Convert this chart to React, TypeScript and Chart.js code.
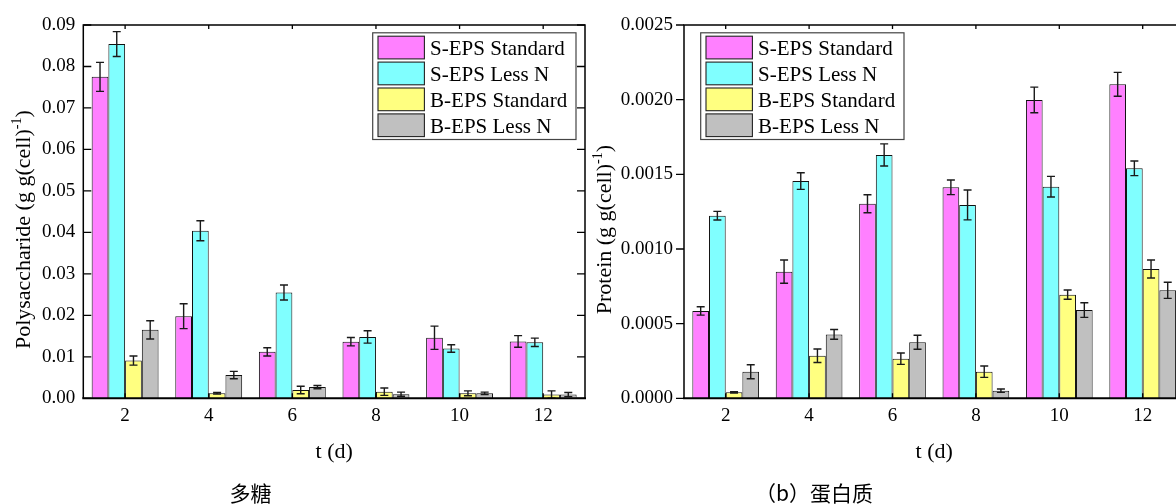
import React, { useEffect, useRef } from 'react';
import { Chart, registerables } from 'chart.js';

Chart.register(...registerables);

// ---------- data ----------
const categories = ['2', '4', '6', '8', '10', '12'];
const seriesNames = ['S-EPS Standard', 'S-EPS Less N', 'B-EPS Standard', 'B-EPS Less N'];
const seriesColors = ['#FF80FF', '#80FFFF', '#FFFF80', '#C0C0C0'];

// Polysaccharide (g g(cell)^-1)
const polySStd = [0.0775, 0.0198, 0.0112, 0.01365, 0.0146, 0.0137];
const polySLessN = [0.0854, 0.0404, 0.0255, 0.0148, 0.012, 0.0135];
const polyBStd = [0.0091, 0.0012, 0.002, 0.0016, 0.0012, 0.0009];
const polyBLessN = [0.0165, 0.0056, 0.0027, 0.001, 0.0012, 0.0009];
const polySStdErr = [0.0035, 0.003, 0.001, 0.001, 0.0028, 0.0014];
const polySLessNErr = [0.003, 0.0024, 0.0018, 0.0015, 0.0009, 0.001];
const polyBStdErr = [0.0011, 0.0002, 0.0009, 0.0009, 0.0006, 0.0009];
const polyBLessNErr = [0.0022, 0.0009, 0.0004, 0.0005, 0.0003, 0.0005];
const polyTickLabels = ['0.00', '0.01', '0.02', '0.03', '0.04', '0.05', '0.06', '0.07', '0.08', '0.09'];

// Protein (g g(cell)^-1)
const protSStd = [0.000585, 0.000848, 0.001303, 0.001413, 0.001998, 0.002103];
const protSLessN = [0.001223, 0.001455, 0.00163, 0.001295, 0.001417, 0.00154];
const protBStd = [0.00004, 0.000285, 0.000265, 0.000178, 0.000694, 0.000866];
const protBLessN = [0.000178, 0.000428, 0.000375, 0.000051, 0.000591, 0.000723];
const protSStdErr = [0.000028, 0.000078, 0.00006, 0.000049, 0.000086, 0.00008];
const protSLessNErr = [0.000029, 0.000056, 0.000074, 0.0001, 0.000069, 0.000049];
const protBStdErr = [0.000005, 0.000045, 0.000038, 0.000038, 0.000031, 0.00006];
const protBLessNErr = [0.000047, 0.000033, 0.000047, 0.000011, 0.000049, 0.000054];
const protTickLabels = ['0.0000', '0.0005', '0.0010', '0.0015', '0.0020', '0.0025'];

const polyTitle = ['Polysaccharide (g g(cell)', '-1', ')'];
const protTitle = ['Protein (g g(cell)', '-1', ')'];
const xTitle = 't (d)';
const polyCaption = '多糖';
const protCaption = '（b）蛋白质';

// ---------- styling ----------
const SERIF = '"Liberation Serif", "Times New Roman", serif';
const CJK = '"Noto Sans CJK SC", sans-serif';

function drawYTitle(ctx: CanvasRenderingContext2D, cx: number, cy: number, parts: string[]) {
  ctx.save();
  ctx.translate(cx, cy);
  ctx.rotate(-Math.PI / 2);
  const mainFont = `22px ${SERIF}`;
  const supFont = `14px ${SERIF}`;
  ctx.font = mainFont;
  const w0 = ctx.measureText(parts[0]).width;
  const w2 = ctx.measureText(parts[2]).width;
  ctx.font = supFont;
  const w1 = ctx.measureText(parts[1]).width;
  const total = w0 + w1 + w2;
  let x = -total / 2;
  ctx.fillStyle = '#000';
  ctx.textBaseline = 'alphabetic';
  ctx.textAlign = 'left';
  const base = 7;
  ctx.font = mainFont;
  ctx.fillText(parts[0], x, base);
  x += w0;
  ctx.font = supFont;
  ctx.fillText(parts[1], x, base - 9);
  x += w1;
  ctx.font = mainFont;
  ctx.fillText(parts[2], x, base);
  ctx.restore();
}

const decorPlugin = {
  id: 'decor',
  afterDatasetsDraw(chart: any, _args: any, opts: any) {
    const ctx: CanvasRenderingContext2D = chart.ctx;
    const { left, right, top, bottom } = chart.chartArea;
    const xs = chart.scales.x;
    const ys = chart.scales.y;
    ctx.save();

    // error bars
    ctx.strokeStyle = '#1a1a1a';
    ctx.lineWidth = 1.4;
    chart.data.datasets.forEach((ds: any, i: number) => {
      const meta = chart.getDatasetMeta(i);
      const errs: number[] = opts.errors[i];
      meta.data.forEach((bar: any, j: number) => {
        const v = ds.data[j];
        const e = errs[j];
        const yt = ys.getPixelForValue(v + e);
        const yb = ys.getPixelForValue(Math.max(0, v - e));
        const cx = bar.x;
        ctx.beginPath();
        ctx.moveTo(cx, yt);
        ctx.lineTo(cx, yb);
        ctx.moveTo(cx - 4, yt);
        ctx.lineTo(cx + 4, yt);
        ctx.moveTo(cx - 4, yb);
        ctx.lineTo(cx + 4, yb);
        ctx.stroke();
      });
    });

    // frame
    ctx.strokeStyle = '#000';
    ctx.lineWidth = 1.5;
    ctx.beginPath();
    ctx.moveTo(left, bottom);
    ctx.lineTo(left, top);
    ctx.lineTo(right, top);
    ctx.lineTo(right, bottom);
    ctx.stroke();
    ctx.lineWidth = 2;
    ctx.beginPath();
    ctx.moveTo(left - 1, bottom);
    ctx.lineTo(right + 1, bottom);
    ctx.stroke();

    // y ticks
    ctx.lineWidth = 1.3;
    ys.ticks.forEach((t: any) => {
      const py = ys.getPixelForValue(t.value);
      ctx.beginPath();
      if (opts.yTickIn) {
        ctx.moveTo(left, py);
        ctx.lineTo(left + 8, py);
      } else {
        ctx.moveTo(left - 8, py);
        ctx.lineTo(left, py);
      }
      ctx.moveTo(right, py);
      ctx.lineTo(right - 8, py);
      ctx.stroke();
    });
    // x ticks (top & bottom, inward)
    categories.forEach((_c, i) => {
      const px = xs.getPixelForValue(i);
      ctx.beginPath();
      ctx.moveTo(px, top);
      ctx.lineTo(px, top + 4);
      ctx.moveTo(px, bottom);
      ctx.lineTo(px, bottom - 5);
      ctx.stroke();
    });

    // legend
    const bw = 203.3;
    const bh = 106.7;
    const bx = opts.legendRight ? right - 9 - bw : left + 16.7;
    const by = top + 7.8;
    ctx.fillStyle = '#fff';
    ctx.fillRect(bx, by, bw, bh);
    ctx.strokeStyle = '#444';
    ctx.lineWidth = 1.2;
    ctx.strokeRect(bx, by, bw, bh);
    ctx.font = `21px ${SERIF}`;
    ctx.textAlign = 'left';
    ctx.textBaseline = 'alphabetic';
    chart.data.datasets.forEach((ds: any, i: number) => {
      const ry = by + 3.4 + i * 25.9;
      ctx.fillStyle = ds.backgroundColor;
      ctx.fillRect(bx + 5.3, ry, 46.4, 22.7);
      ctx.strokeStyle = '#222';
      ctx.lineWidth = 1.1;
      ctx.strokeRect(bx + 5.3, ry, 46.4, 22.7);
      ctx.fillStyle = '#000';
      ctx.fillText(ds.label, bx + 57.4, ry + 19);
    });

    // axis titles
    ctx.fillStyle = '#000';
    ctx.font = `22px ${SERIF}`;
    ctx.textAlign = 'center';
    ctx.textBaseline = 'middle';
    ctx.fillText(xTitle, (left + right) / 2, 452);
    drawYTitle(ctx, opts.yTitleX, (top + bottom) / 2 + opts.yTitleShift, opts.yTitle);

    // caption
    ctx.font = `21px ${CJK}`;
    ctx.textAlign = 'center';
    ctx.textBaseline = 'middle';
    ctx.fillStyle = '#000';
    ctx.fillText(opts.caption, opts.captionX, 493);

    ctx.restore();
  },
};

function makeConfig(
  values: number[][],
  errors: number[][],
  tickLabels: string[],
  yWidth: number,
  rightPad: number,
  tickPad: number,
  decor: any
): any {
  const maxVal = parseFloat(tickLabels[tickLabels.length - 1]);
  return {
    type: 'bar',
    data: {
      labels: categories,
      datasets: values.map((d, i) => ({
        label: seriesNames[i],
        data: d,
        backgroundColor: seriesColors[i],
        borderColor: '#111',
        borderWidth: 1,
        categoryPercentage: 0.8,
        barPercentage: 1.0,
      })),
    },
    options: {
      responsive: false,
      animation: false,
      events: [],
      layout: { padding: { top: 25, right: rightPad, bottom: 0, left: 0 } },
      plugins: {
        legend: { display: false },
        tooltip: { enabled: false },
        title: { display: false },
        decor: { ...decor, errors },
      },
      scales: {
        x: {
          type: 'category',
          offset: true,
          grid: { display: false, drawTicks: false },
          border: { display: false },
          ticks: { font: { family: SERIF, size: 19 }, color: '#000', padding: 6, maxRotation: 0, autoSkip: false },
          afterFit: (s: any) => {
            s.height = 105.7;
          },
        },
        y: {
          type: 'linear',
          min: 0,
          max: maxVal,
          grid: { display: false, drawTicks: false },
          border: { display: false },
          ticks: {
            font: { family: SERIF, size: 19 },
            color: '#000',
            padding: tickPad,
            callback: (_v: any, idx: number) => tickLabels[idx],
          },
          afterBuildTicks: (s: any) => {
            s.ticks = tickLabels.map((l) => ({ value: parseFloat(l) }));
          },
          afterFit: (s: any) => {
            s.width = yWidth;
          },
        },
      },
    },
    plugins: [decorPlugin],
  };
}

function BarPanel(props: { cfg: any; left: number; width: number }) {
  const ref = useRef<HTMLCanvasElement | null>(null);
  useEffect(() => {
    if (!ref.current) return;
    const chart = new Chart(ref.current, props.cfg);
    return () => chart.destroy();
  }, []);
  return (
    <canvas
      ref={ref}
      width={props.width}
      height={504}
      style={{ position: 'absolute', left: props.left, top: 0, width: props.width, height: 504 }}
    />
  );
}

export default function App() {
  const polyCfg = makeConfig(
    [polySStd, polySLessN, polyBStd, polyBLessN],
    [polySStdErr, polySLessNErr, polyBStdErr, polyBLessNErr],
    polyTickLabels,
    83.3,
    15,
    8,
    { yTickIn: true, legendRight: true, yTitle: polyTitle, yTitleX: 23, yTitleShift: 18, caption: polyCaption, captionX: 250.5 }
  );
  const protCfg = makeConfig(
    [protSStd, protSLessN, protBStd, protBLessN],
    [protSStdErr, protSLessNErr, protBStdErr, protBLessNErr],
    protTickLabels,
    96,
    23.6,
    11,
    { yTickIn: false, legendRight: false, yTitle: protTitle, yTitleX: 16, yTitleShift: 18, caption: protCaption, captionX: 226 }
  );
  return (
    <div
      style={{
        position: 'absolute',
        left: 0,
        top: 0,
        width: 1176,
        height: 504,
        overflow: 'hidden',
        background: '#fff',
      }}
    >
      <BarPanel cfg={polyCfg} left={0} width={600} />
      <BarPanel cfg={protCfg} left={588} width={620} />
    </div>
  );
}
